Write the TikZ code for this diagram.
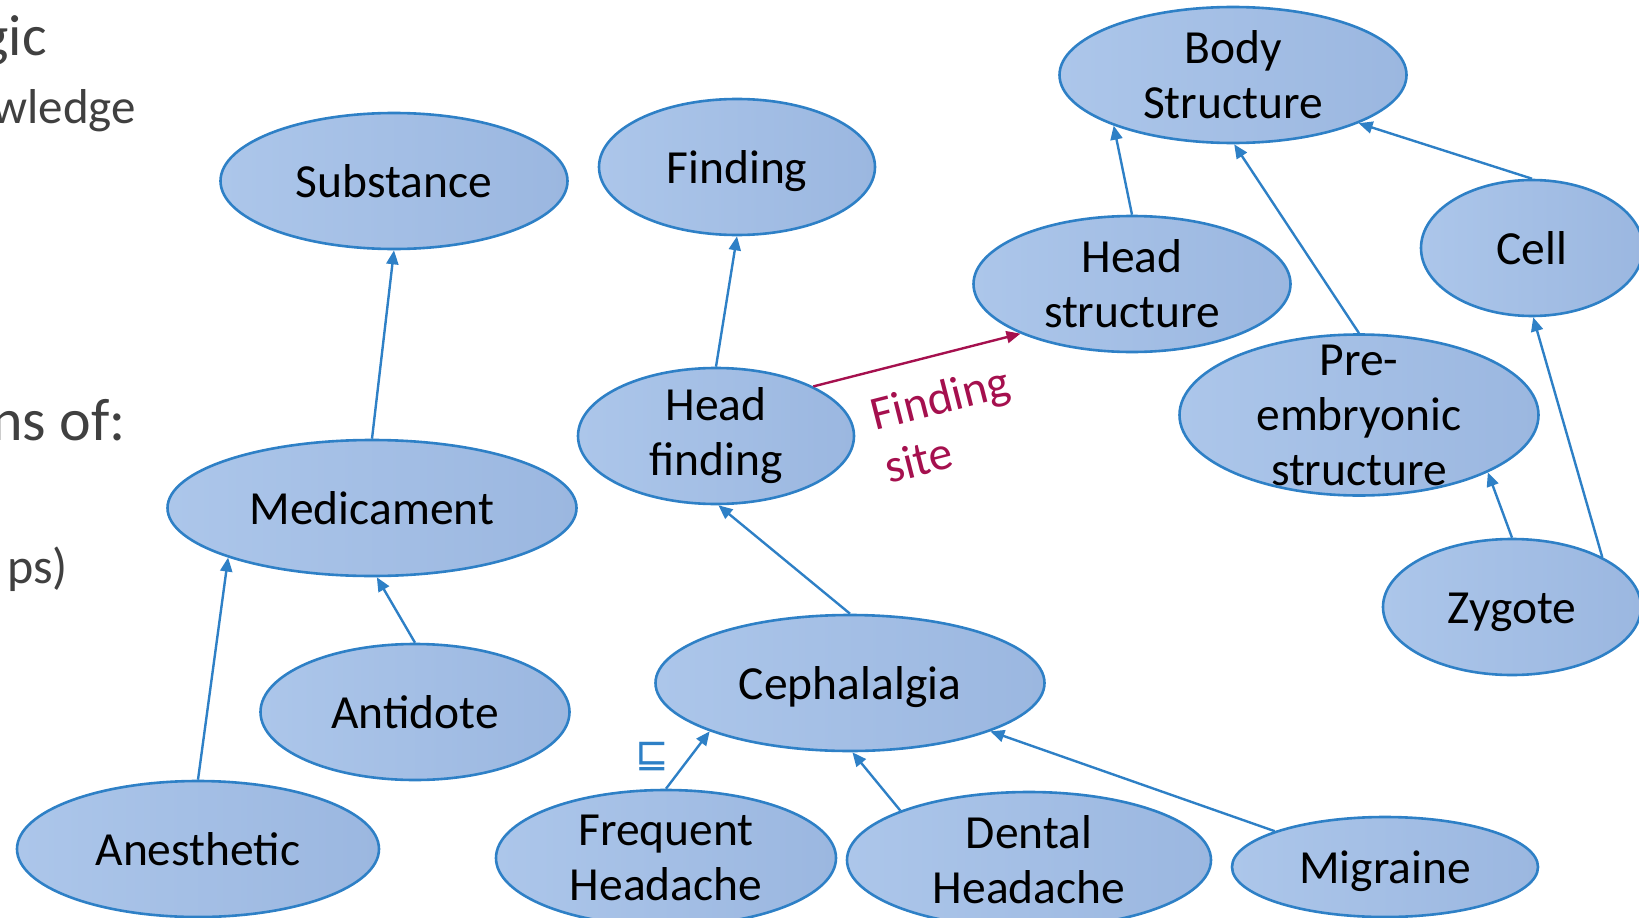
\documentclass[tikz,border=0pt]{standalone}
\usepackage{fontspec}
\setmainfont{Carlito}
\newfontfamily\symfont{DejaVu Sans}
\usetikzlibrary{shapes.geometric,arrows.meta}
\definecolor{sblue}{RGB}{46,128,198}
\definecolor{sfilla}{RGB}{172,198,234}
\definecolor{sfillb}{RGB}{155,183,224}
\definecolor{sred}{RGB}{165,16,78}
\definecolor{sgray}{RGB}{64,64,64}
\tikzset{snomed/.style={x=1pt,y=-1pt}}
\tikzset{concept/.style={ellipse,draw=sblue,line width=2.6pt,left color=sfilla,right color=sfillb,
           inner xsep=0pt,inner ysep=-40pt,minimum height=136pt,align=center,
           font=\fontsize{47.5}{55}\selectfont},
         word/.style={concept,text height=33pt,text depth=0pt},
         isa/.style={sblue,line width=2.4pt,-{Triangle[length=14pt,width=12pt]}},
         role/.style={sred,line width=2.4pt,-{Triangle[length=14pt,width=12pt]}},
         slide/.style={sgray,inner sep=0pt,anchor=base east}}

\begin{document}
\begin{tikzpicture}[snomed]
    \useasboundingbox (0,0) rectangle (1639,918);
    % slide text cut off at the left
    \node[slide,font=\fontsize{58}{70}\selectfont] (lgc)  at (47,55)   {gic};
    \node[slide,font=\fontsize{49}{58}\selectfont] (kwl)  at (136,123) {wledge};
    \node[slide,font=\fontsize{60}{70}\selectfont] (nsof) at (126,440) {ns of:};
    \node[slide,font=\fontsize{50}{58}\selectfont] (psx)  at (68,583)  {ps)};
    % concepts
    \node[word,minimum width=347pt]    (sub)  at (394,181)  {Substance};
    \node[word,minimum width=276pt]    (find) at (737,167)  {Finding};
    \node[concept,minimum width=347pt] (body) at (1233,75)  {Body\\Structure};
    \node[concept,minimum width=317pt] (hs)   at (1132,284) {Head\\structure};
    \node[word,minimum width=222pt]    (cell) at (1532,248) {Cell};
    \node[concept,minimum width=276pt] (hf)   at (716,436)  {Head\\finding};
    \node[concept,minimum width=359pt,minimum height=161pt] (pre) at (1359,415) {Pre-\\embryonic\\structure};
    \node[word,minimum width=409pt]    (med)  at (372,508)  {Medicament};
    \node[word,minimum width=258pt]    (zyg)  at (1512,607) {Zygote};
    \node[word,minimum width=309pt]    (anti) at (415,712)  {Antidote};
    \node[word,minimum width=389pt]    (ceph) at (850,683)  {Cephalalgia};
    \node[word,minimum width=362pt]    (anes) at (198,849)  {Anesthetic};
    \node[concept,minimum width=340pt] (freq) at (666,858)  {Frequent\\Headache};
    \node[concept,minimum width=364pt] (dent) at (1029,860) {Dental\\Headache};
    \node[word,minimum width=306pt,minimum height=100pt] (mig) at (1385,867) {Migraine};
    % is-a links
    \foreach \a/\b in {med.north/sub.south, anti.north/med.274, anes.north/med.199,
                       hf.north/find.south, ceph.north/hf.272, freq.north/ceph.199,
                       dent.159/ceph.272, mig.162/ceph.341, hs.north/body.203,
                       pre.north/body.271, cell.north/body.339, zyg.north/pre.336,
                       zyg.29/cell.271}
      \draw[isa] (\a) -- (\b);
    \draw[role] (hf.27) -- (hs.204)
      node[sloped,below=24pt,pos=0.56,inner sep=0pt,align=left,font=\fontsize{47.5}{55}\selectfont] (fsite) {Finding\\site};
    \node[sblue,font=\symfont\fontsize{40}{40}\selectfont] (sqs) at (652,757) {⊑};
\end{tikzpicture}
\end{document}
